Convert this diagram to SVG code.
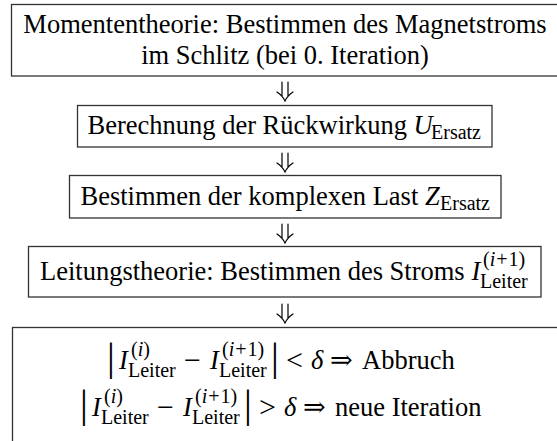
<svg xmlns="http://www.w3.org/2000/svg" width="557" height="441" viewBox="0 0 557 441">
<style>
.t{font-family:'Liberation Serif','Times New Roman',serif;font-size:26.5px;fill:#000}
.i{font-style:italic}
.s{font-size:20px}
.bar{font-size:39px}
.op{font-size:30px}
.sym{font-family:'DejaVu Serif','Liberation Serif',serif;font-size:27px}
.box{fill:#fff;stroke:#333;stroke-width:1.3}
.arr{fill:none;stroke:#000;stroke-width:1.2;stroke-linecap:round}
</style>
<rect width="557" height="441" fill="#fff"/>
<g id="connectors">
<path class="arr" d="M282,82V96M288,82V96M277,92Q282,95 285,101Q288,95 293,92"/>
<path class="arr" d="M282,153V167M288,153V167M277,163Q282,166 285,172Q288,166 293,163"/>
<path class="arr" d="M282,224V238M288,224V238M277,234Q282,237 285,243Q288,237 293,234"/>
<path class="arr" d="M282,304V318M288,304V318M277,314Q282,317 285,323Q288,317 293,314"/>
</g>
<g id="node1">
<rect class="box" x="11.5" y="4.5" width="548" height="71.5"/>
<text class="t" x="285" y="33" text-anchor="middle">Momententheorie: Bestimmen des Magnetstroms</text>
<text class="t" x="285" y="64" text-anchor="middle">im Schlitz (bei 0. Iteration)</text>
</g>
<g id="node2">
<rect class="box" x="77.5" y="105.5" width="414.5" height="41.5"/>
<text class="t" x="87.5" y="134">Berechnung der Rückwirkung</text>
<text class="t i" x="413.5" y="134">U</text>
<text class="t s" x="431" y="139">Ersatz</text>
</g>
<g id="node3">
<rect class="box" x="69.5" y="175.5" width="431.5" height="42.5"/>
<text class="t" x="80.5" y="205">Bestimmen der komplexen Last</text>
<text class="t i" x="425" y="205">Z</text>
<text class="t s" x="440" y="210">Ersatz</text>
</g>
<g id="node4">
<rect class="box" x="28.5" y="246.5" width="512.5" height="50.5"/>
<text class="t" x="40" y="280">Leitungstheorie: Bestimmen des Stroms</text>
<text class="t i" x="471.5" y="280">I</text>
<text class="t s" x="483" y="266">(<tspan class="i">i</tspan><tspan dx="1">+</tspan><tspan dx="1">1)</tspan></text>
<text class="t s" x="480" y="288">Leiter</text>
</g>
<g id="node5">
<rect class="box" x="12.5" y="327.5" width="546" height="130"/>
<text class="t bar" x="107" y="370">|</text>
<text class="t i" x="119" y="369">I</text>
<text class="t s" x="131" y="356">(<tspan class="i">i</tspan>)</text>
<text class="t s" x="128" y="377">Leiter</text>
<text class="t op" x="184" y="370">−</text>
<text class="t i" x="210" y="369">I</text>
<text class="t s" x="222" y="356">(<tspan class="i">i</tspan><tspan dx="1">+</tspan><tspan dx="1">1)</tspan></text>
<text class="t s" x="219" y="377">Leiter</text>
<text class="t bar" x="271" y="370">|</text>
<text class="t op" x="286" y="370">&lt;</text>
<text class="t i" x="311" y="369">δ</text>
<text class="t sym" x="330" y="369">⇒</text>
<text class="t" x="362" y="369">Abbruch</text>
<text class="t bar" x="80" y="417">|</text>
<text class="t i" x="92" y="416">I</text>
<text class="t s" x="104" y="403">(<tspan class="i">i</tspan>)</text>
<text class="t s" x="101" y="424">Leiter</text>
<text class="t op" x="157" y="417">−</text>
<text class="t i" x="183" y="416">I</text>
<text class="t s" x="195" y="403">(<tspan class="i">i</tspan><tspan dx="1">+</tspan><tspan dx="1">1)</tspan></text>
<text class="t s" x="192" y="424">Leiter</text>
<text class="t bar" x="244" y="417">|</text>
<text class="t op" x="259" y="417">&gt;</text>
<text class="t i" x="284" y="416">δ</text>
<text class="t sym" x="303" y="416">⇒</text>
<text class="t" x="335" y="416">neue Iteration</text>
</g>
</svg>
